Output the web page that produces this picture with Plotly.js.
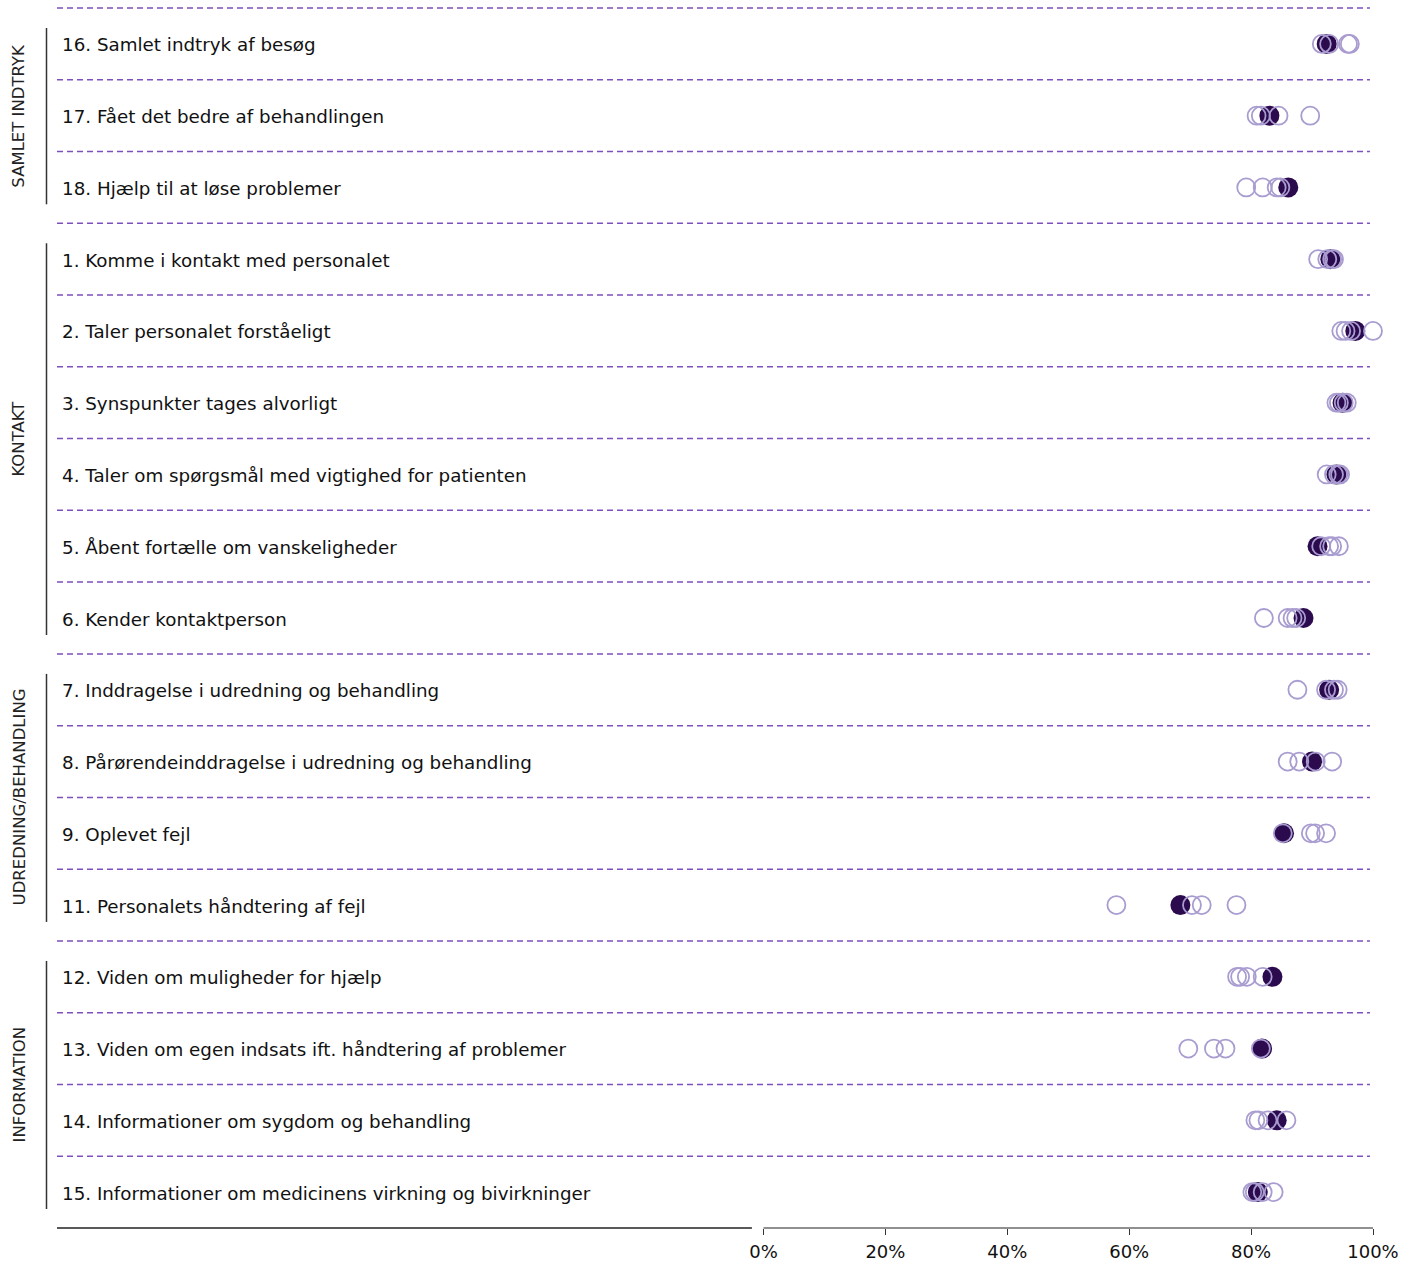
<!DOCTYPE html>
<html>
<head>
<meta charset="utf-8">
<script src="https://cdn.plot.ly/plotly-3.0.1.min.js"></script>
<style>html,body{margin:0;padding:0;background:#fff;}#chart{width:1404px;height:1264px;}</style>
</head>
<body>
<div id="chart"></div>
<script>
const items = [
  "16. Samlet indtryk af besøg",
  "17. Fået det bedre af behandlingen",
  "18. Hjælp til at løse problemer",
  "1. Komme i kontakt med personalet",
  "2. Taler personalet forståeligt",
  "3. Synspunkter tages alvorligt",
  "4. Taler om spørgsmål med vigtighed for patienten",
  "5. Åbent fortælle om vanskeligheder",
  "6. Kender kontaktperson",
  "7. Inddragelse i udredning og behandling",
  "8. Pårørendeinddragelse i udredning og behandling",
  "9. Oplevet fejl",
  "11. Personalets håndtering af fejl",
  "12. Viden om muligheder for hjælp",
  "13. Viden om egen indsats ift. håndtering af problemer",
  "14. Informationer om sygdom og behandling",
  "15. Informationer om medicinens virkning og bivirkninger"
];
const groups = ["SAMLET INDTRYK", "KONTAKT", "UDREDNING/BEHANDLING", "INFORMATION"];
const groupSizes = [3, 6, 4, 4];

const unitValues = [92.4, 83.0, 86.1, 93.0, 97.1, 95.0, 94.0, 90.9, 88.6, 92.8, 90.0, 85.4, 68.4, 83.5, 81.8, 84.2, 81.1];
const compare1 = [91.6, 80.9, 79.2, 91.0, 94.8, 94.0, 92.4, 91.5, 82.1, 87.6, 86.0, 85.2, 57.9, 77.7, 69.7, 80.7, 80.2];
const compare2 = [92.8, 81.6, 81.9, 92.5, 95.5, 94.4, 93.6, 92.8, 86.0, 92.3, 87.9, 89.8, 70.3, 78.2, 73.9, 81.2, 80.6];
const compare3 = [95.9, 84.5, 84.2, 93.3, 96.4, 95.2, 94.3, 93.3, 86.8, 93.6, 90.6, 90.5, 71.9, 79.3, 75.8, 82.7, 81.9];
const compare4 = [96.2, 89.7, 84.8, 93.6, 100.0, 95.7, 94.6, 94.4, 87.4, 94.2, 93.3, 92.3, 77.6, 81.9, 81.6, 85.8, 83.7];

const tickValues = [0, 20, 40, 60, 80, 100];
const tickLabels = ["0%", "20%", "40%", "60%", "80%", "100%"];

const W = 1404, H = 1264;
const mL = 57, mR = 31, mT = 8, mB = 36;
const plotW = W - mL - mR, plotH = H - mT - mB;
const pxPerPct = 6.095;
const xMin = 100 - plotW / pxPerPct;
const n = items.length;

const FONT = "DejaVu Sans, Verdana, sans-serif";
const openColor = "#a99cd0";
const fillColor = "#2b0a4e";
const gridColor = "#7e4fbf";

const traces = [];
traces.push({
  type: "scatter", mode: "markers", name: "Afdeling",
  x: unitValues, y: items,
  marker: {symbol: "circle", size: 20, color: fillColor, line: {width: 0}},
  cliponaxis: false, hoverinfo: "x+y"
});
[compare1, compare2, compare3, compare4].forEach((s, k) => {
  traces.push({
    type: "scatter", mode: "markers", name: "Sammenligning " + (k + 1),
    x: s, y: items,
    marker: {symbol: "circle-open", size: 18, color: openColor, line: {width: 1.8, color: openColor}},
    cliponaxis: false, hoverinfo: "x+y"
  });
});

const shapes = [];
const annotations = [];
for (let i = 0; i < n; i++) {
  const yp = 1 - i / n;
  shapes.push({type: "line", xref: "x", yref: "paper", x0: xMin, x1: 99.5, y0: yp, y1: yp,
    line: {color: gridColor, width: 1.5, dash: "6px,4px"}});
  annotations.push({xref: "paper", yref: "paper", x: 3 / plotW, y: 1 - (i + 0.5) / n,
    xanchor: "left", yanchor: "middle", text: items[i], showarrow: false, yshift: -1,
    font: {family: FONT, size: 18.3, color: "#111"}});
}
let start = 0;
groups.forEach((g, k) => {
  const end = start + groupSizes[k];
  const yTop = 1 - start / n, yBot = 1 - end / n;
  const insetTop = 20 / plotH, insetBot = 19 / plotH;
  const xl = (46.5 - mL) / plotW;
  shapes.push({type: "line", xref: "paper", yref: "paper", x0: xl, x1: xl,
    y0: yTop - insetTop, y1: yBot + insetBot, line: {color: "#333", width: 1.5}});
  annotations.push({xref: "paper", yref: "paper", x: (19 - mL) / plotW, y: (yTop + yBot) / 2,
    xanchor: "center", yanchor: "middle", text: g, textangle: -90, showarrow: false,
    font: {family: FONT, size: 16.5, color: "#222"}});
  start = end;
});
shapes.push({type: "line", xref: "x", yref: "paper", x0: xMin, x1: -1.9, y0: 0, y1: 0,
  line: {color: "#222", width: 1.5}});
shapes.push({type: "line", xref: "x", yref: "paper", x0: 0, x1: 100, y0: 0, y1: 0,
  line: {color: "#222", width: 1.2}});

const layout = {
  width: W, height: H,
  margin: {l: mL, r: mR, t: mT, b: mB, pad: 0},
  paper_bgcolor: "#fff", plot_bgcolor: "#fff",
  showlegend: false,
  xaxis: {range: [xMin, 100], showgrid: false, zeroline: false, showline: false,
    tickmode: "array", tickvals: tickValues, ticktext: tickLabels,
    ticks: "outside", ticklen: 6, tickwidth: 1, tickcolor: "#333", ticklabelstandoff: 1,
    tickfont: {family: FONT, size: 18, color: "#111"}, fixedrange: true},
  yaxis: {type: "category", categoryorder: "array", categoryarray: items,
    range: [n - 0.5, -0.5], showgrid: false, zeroline: false, showline: false,
    showticklabels: false, ticks: "", fixedrange: true},
  shapes: shapes,
  annotations: annotations
};

Plotly.newPlot("chart", traces, layout, {displayModeBar: false, staticPlot: true});
</script>
</body>
</html>
